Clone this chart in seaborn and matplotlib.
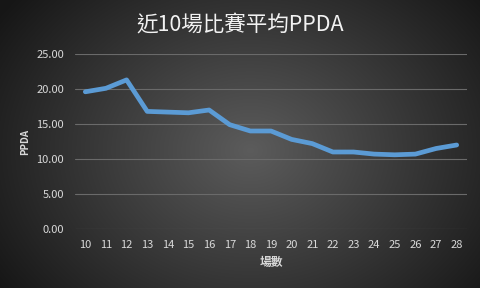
import numpy as np
import pandas as pd
import matplotlib
matplotlib.use("Agg")
import matplotlib.pyplot as plt
import seaborn as sns

matches = [10, 11, 12, 13, 14, 15, 16, 17, 18, 19, 20, 21, 22, 23, 24, 25, 26, 27, 28]
ppda = [19.6, 20.1, 21.3, 16.8, 16.7, 16.6, 17.0, 14.9, 14.0, 14.0, 12.8, 12.2, 11.0, 11.0, 10.7, 10.6, 10.7, 11.5, 12.0]
yticks = [0, 5, 10, 15, 20, 25]
title = "近10場比賽平均PPDA"
xlabel = "場數"
ylabel = "PPDA"

sns.set_style("dark")
plt.rcParams['font.family'] = ['Noto Sans CJK TC', 'DejaVu Sans']

df = pd.DataFrame({"match": matches, "ppda": ppda})

fig = plt.figure(figsize=(4.8, 2.88), dpi=100)

# radial gradient background
bg = fig.add_axes([0, 0, 1, 1], zorder=-10)
yy, xx = np.mgrid[0:288, 0:480]
cx, cy = 250, 150
r = np.sqrt(((xx - cx) / 290.0) ** 2 + ((yy - cy) / 230.0) ** 2)
val = np.clip(0.36 - 0.26 * r, 0.09, 0.4)
img = np.dstack([val, val, val])
bg.imshow(img, aspect='auto', extent=[0, 1, 0, 1], origin='upper')
bg.axis('off')

ax = fig.add_axes([75 / 480, 1 - 229 / 288, (467 - 75) / 480, (229 - 54) / 288])
ax.patch.set_alpha(0)
sns.lineplot(data=df, x="match", y="ppda", ax=ax, color="#5B9BD5", linewidth=3.4,
             solid_capstyle='round', solid_joinstyle='round')

ax.set_xlim(9.5, 28.5)
ax.set_ylim(0, 25)
ax.set_yticks(yticks)
ax.set_yticklabels([f"{v:.2f}" for v in yticks])
ax.set_xticks(matches)
ax.set_xticklabels([str(m) for m in matches])
ax.tick_params(axis='both', colors='#d9d9d9', labelsize=8, length=0, pad=8)
ax.grid(axis='y', color='#6a6a6a', linewidth=0.8)
ax.grid(axis='x', visible=False)
for s in ax.spines.values():
    s.set_visible(False)

ax.set_xlabel(xlabel, color='#d9d9d9', fontsize=8.5, fontweight='bold', labelpad=4)
ax.set_ylabel(ylabel, color='#d9d9d9', fontsize=7, fontweight='bold', labelpad=4)

fig.text(0.5, 1 - 25 / 288, title, ha='center', va='center', color='#f2f2f2',
         fontsize=15.5, fontweight='medium')

fig.savefig("out.png", dpi=100)
